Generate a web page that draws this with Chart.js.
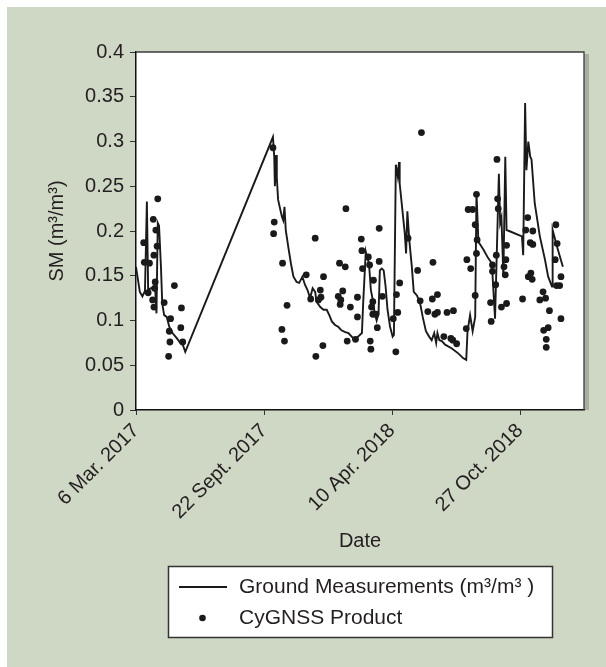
<!DOCTYPE html>
<html>
<head>
<meta charset="utf-8">
<script src="https://cdn.jsdelivr.net/npm/chart.js@4.4.1/dist/chart.umd.min.js"></script>
<style>
  html, body { margin: 0; padding: 0; background: #ffffff; }
  canvas { display: block; }
</style>
</head>
<body>
<canvas id="c" width="606" height="667"></canvas>
<script>
// Day offsets are counted from 6 Mar. 2017.
const tickDays = [0, 200, 400, 600];
const tickLabels = ['6 Mar. 2017', '22 Sept. 2017', '10 Apr. 2018', '27 Oct. 2018'];
const yTicks = [0, 0.05, 0.1, 0.15, 0.2, 0.25, 0.3, 0.35, 0.4];

// In-situ soil moisture (m3/m3)
const groundDays = [
  0, 6, 10, 14, 17, 19, 23, 27, 30, 32,
  34, 36, 39, 41, 44, 48, 52, 57, 64, 69,
  73, 77, 214, 216, 217, 219, 220, 222, 228, 230,
  232, 234, 238, 242, 246, 251, 255, 260, 264, 268,
  272, 276, 280, 282, 288, 293, 298, 302, 306, 311,
  316, 321, 327, 332, 337, 342, 347, 353, 355, 359,
  361, 364, 367, 370, 373, 376, 379, 381, 384, 387,
  390, 393, 397, 401, 403, 406, 409, 411, 412, 420,
  422, 424, 427, 431, 434, 439, 444, 448, 453, 458,
  462, 466, 469, 471, 474, 478, 483, 493, 504, 511,
  516, 518, 522, 526, 530, 532, 535, 543, 550, 556,
  561, 567, 569, 571, 574, 577, 579, 583, 603, 605,
  608, 610, 613, 616, 618, 623, 631, 639, 644, 650,
  651, 658, 667
];
const groundSM = [
  0.160, 0.132, 0.127, 0.133, 0.233, 0.134, 0.136, 0.136, 0.134, 0.108,
  0.209, 0.206, 0.160, 0.119, 0.106, 0.104, 0.093, 0.086, 0.080, 0.075,
  0.073, 0.065, 0.305, 0.283, 0.250, 0.285, 0.260, 0.235, 0.216, 0.212,
  0.227, 0.201, 0.182, 0.164, 0.149, 0.143, 0.142, 0.149, 0.140, 0.134,
  0.125, 0.136, 0.132, 0.121, 0.115, 0.112, 0.112, 0.106, 0.099, 0.095,
  0.093, 0.089, 0.087, 0.086, 0.082, 0.078, 0.082, 0.086, 0.120, 0.177,
  0.171, 0.164, 0.134, 0.123, 0.108, 0.100, 0.108, 0.156, 0.158, 0.156,
  0.138, 0.112, 0.093, 0.082, 0.084, 0.274, 0.261, 0.277, 0.253, 0.197,
  0.175, 0.222, 0.190, 0.160, 0.132, 0.128, 0.119, 0.104, 0.088, 0.082,
  0.078, 0.086, 0.075, 0.086, 0.078, 0.077, 0.073, 0.069, 0.063, 0.058,
  0.056, 0.088, 0.106, 0.088, 0.104, 0.243, 0.188, 0.179, 0.170, 0.164,
  0.102, 0.264, 0.209, 0.215, 0.149, 0.283, 0.201, 0.200, 0.194, 0.173,
  0.343, 0.268, 0.300, 0.283, 0.280, 0.231, 0.194, 0.168, 0.149, 0.138,
  0.201, 0.182, 0.160
];

// CyGNSS retrievals (m3/m3)
const cygnssDays = [
  34, 27, 31, 12, 33, 28, 13, 21, 19, 30,
  29, 26, 28, 44, 60, 54, 71, 52, 70, 53,
  73, 51, 214, 216, 215, 229, 236, 228, 232, 280,
  266, 293, 288, 273, 289, 285, 281, 292, 328, 318,
  327, 323, 316, 320, 319, 335, 346, 346, 330, 343,
  352, 353, 354, 363, 365, 380, 371, 370, 368, 370,
  375, 377, 366, 367, 380, 385, 402, 406, 407, 409,
  412, 425, 446, 440, 444, 464, 463, 471, 456, 467,
  471, 486, 496, 481, 492, 495, 501, 516, 517, 523,
  519, 526, 530, 532, 532, 533, 530, 555, 554, 557,
  557, 564, 562, 565, 566, 563, 571, 579, 579, 575,
  578, 577, 604, 612, 609, 620, 616, 620, 613, 617,
  619, 631, 640, 636, 646, 637, 644, 641, 641, 656,
  658, 655, 664, 657, 662, 664
];
const cygnssSM = [
  0.236, 0.213, 0.201, 0.187, 0.183, 0.173, 0.165, 0.164, 0.131, 0.143,
  0.136, 0.123, 0.115, 0.120, 0.139, 0.102, 0.114, 0.088, 0.092, 0.076,
  0.076, 0.060, 0.293, 0.210, 0.197, 0.164, 0.117, 0.090, 0.077, 0.192,
  0.151, 0.149, 0.134, 0.124, 0.126, 0.123, 0.060, 0.072, 0.225, 0.164,
  0.160, 0.133, 0.127, 0.123, 0.118, 0.115, 0.104, 0.126, 0.077, 0.079,
  0.191, 0.178, 0.158, 0.171, 0.162, 0.203, 0.145, 0.121, 0.115, 0.107,
  0.107, 0.092, 0.077, 0.068, 0.166, 0.127, 0.102, 0.065, 0.129, 0.109,
  0.142, 0.192, 0.310, 0.156, 0.122, 0.165, 0.124, 0.129, 0.110, 0.107,
  0.109, 0.109, 0.111, 0.082, 0.080, 0.078, 0.074, 0.091, 0.168, 0.158,
  0.224, 0.224, 0.207, 0.241, 0.175, 0.190, 0.128, 0.099, 0.120, 0.155,
  0.162, 0.280, 0.140, 0.236, 0.225, 0.173, 0.115, 0.119, 0.184, 0.160,
  0.168, 0.151, 0.124, 0.215, 0.201, 0.200, 0.187, 0.185, 0.149, 0.153,
  0.146, 0.123, 0.125, 0.132, 0.111, 0.089, 0.092, 0.079, 0.070, 0.207,
  0.186, 0.168, 0.149, 0.139, 0.139, 0.102
];

const INK = '#1a1a1a';
const TEXT = '#231f20';
const PANEL = '#cfd7c5';
const FONT = "'Liberation Sans', Arial, Helvetica, sans-serif";

const toPoints = (xs, ys) => xs.map((x, i) => ({ x: x, y: ys[i] }));

// Panel background, plot shadow and white plotting area
const framePlugin = {
  id: 'frame',
  beforeDraw(chart) {
    const { ctx, chartArea: a, width, height } = chart;
    ctx.save();
    ctx.fillStyle = '#ffffff';
    ctx.fillRect(0, 0, width, height);
    ctx.fillStyle = PANEL;
    ctx.fillRect(7, 7, width - 7, height - 7);
    ctx.fillStyle = '#a9ae9f';
    ctx.fillRect(a.right, a.top + 2, 5, a.bottom - a.top - 2);
    ctx.fillStyle = '#ffffff';
    ctx.fillRect(a.left, a.top, a.right - a.left, a.bottom - a.top);
    ctx.restore();
  },
  afterDraw(chart) {
    const { ctx, chartArea: a } = chart;
    ctx.save();
    ctx.strokeStyle = '#3c3c3c';
    ctx.lineWidth = 1.3;
    ctx.beginPath();
    ctx.moveTo(a.left, a.top);
    ctx.lineTo(a.right, a.top);
    ctx.lineTo(a.right, a.bottom);
    ctx.stroke();
    ctx.restore();
  }
};

// Boxed legend below the axis title
const boxLegendPlugin = {
  id: 'boxLegend',
  afterDraw(chart) {
    const { ctx } = chart;
    const ds = chart.data.datasets;
    const bx = 168.5, by = 566.5, bw = 384, bh = 71;
    ctx.save();
    ctx.fillStyle = '#ffffff';
    ctx.fillRect(bx, by, bw, bh);
    ctx.strokeStyle = '#333333';
    ctx.lineWidth = 1.5;
    ctx.strokeRect(bx, by, bw, bh);

    ctx.font = '21px ' + FONT;
    ctx.fillStyle = TEXT;
    ctx.textBaseline = 'middle';
    ctx.textAlign = 'left';

    const rowY = [587, 618];
    // line entry
    ctx.strokeStyle = ds[0].borderColor;
    ctx.lineWidth = 2.2;
    ctx.beginPath();
    ctx.moveTo(179, rowY[0]);
    ctx.lineTo(227, rowY[0]);
    ctx.stroke();
    ctx.fillText(ds[0].label, 239, rowY[0]);
    // point entry
    ctx.fillStyle = ds[1].backgroundColor;
    ctx.beginPath();
    ctx.arc(202.5, rowY[1], 3.3, 0, Math.PI * 2);
    ctx.fill();
    ctx.fillStyle = TEXT;
    ctx.fillText(ds[1].label, 239, rowY[1]);
    ctx.restore();
  }
};

new Chart(document.getElementById('c'), {
  type: 'scatter',
  data: {
    datasets: [
      {
        label: 'Ground Measurements (m³/m³ )',
        data: toPoints(groundDays, groundSM),
        showLine: true,
        borderColor: INK,
        borderWidth: 1.9,
        pointRadius: 0,
        pointHoverRadius: 0,
        tension: 0,
        order: 2
      },
      {
        label: 'CyGNSS Product',
        data: toPoints(cygnssDays, cygnssSM),
        showLine: false,
        backgroundColor: INK,
        borderWidth: 0,
        pointRadius: 3.4,
        order: 1
      }
    ]
  },
  options: {
    responsive: false,
    animation: false,
    devicePixelRatio: 1,
    layout: { padding: { left: 0, top: 52, right: 22, bottom: 114 } },
    plugins: {
      legend: { display: false },
      tooltip: { enabled: false }
    },
    scales: {
      x: {
        type: 'linear',
        min: 0,
        max: 700,
        afterBuildTicks: (scale) => { scale.ticks = tickDays.map(v => ({ value: v })); },
        afterFit: (scale) => { scale.height = 143; },
        border: { display: true, color: '#111111', width: 1.5 },
        grid: { drawOnChartArea: false, drawTicks: true, tickLength: 5, color: '#333333', lineWidth: 1 },
        ticks: {
          autoSkip: false,
          minRotation: 45,
          maxRotation: 45,
          padding: 4,
          color: TEXT,
          font: { family: FONT, size: 20 },
          callback: (v) => tickLabels[tickDays.indexOf(v)]
        },
        title: {
          display: true,
          text: 'Date',
          color: TEXT,
          font: { family: FONT, size: 20 },
          padding: { top: 0, bottom: 0 }
        }
      },
      y: {
        type: 'linear',
        min: 0,
        max: 0.4,
        afterBuildTicks: (scale) => { scale.ticks = yTicks.map(v => ({ value: v })); },
        afterFit: (scale) => { scale.width = 136; },
        border: { display: true, color: '#111111', width: 1.5 },
        grid: { drawOnChartArea: false, drawTicks: true, tickLength: 6, color: '#333333', lineWidth: 1 },
        ticks: {
          padding: 6,
          color: TEXT,
          font: { family: FONT, size: 20 },
          callback: (v) => String(Number(v.toFixed(2)))
        },
        title: {
          display: true,
          text: 'SM (m³/m³)',
          color: TEXT,
          font: { family: FONT, size: 20 },
          padding: { top: 45, bottom: 0 }
        }
      }
    }
  },
  plugins: [framePlugin, boxLegendPlugin]
});
</script>
</body>
</html>
